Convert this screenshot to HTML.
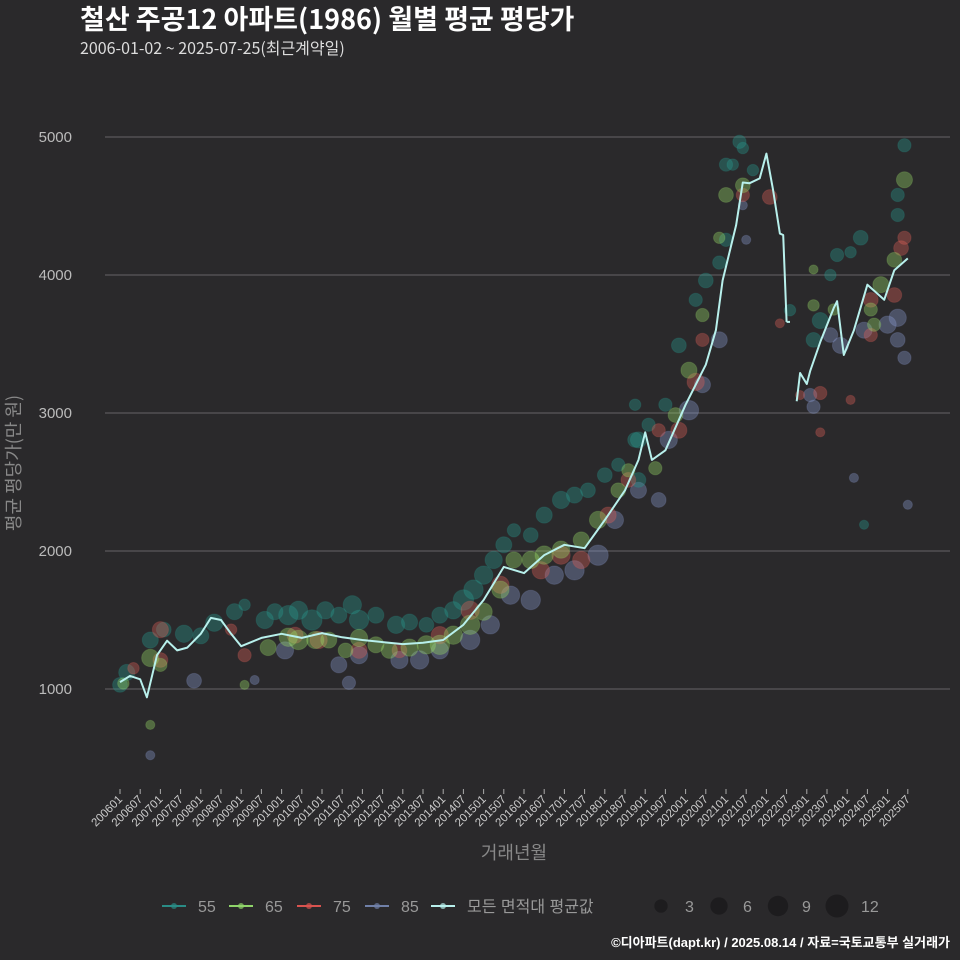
<!DOCTYPE html>
<html><head><meta charset="utf-8">
<style>
html,body{margin:0;padding:0;background:#2a292b;}
svg{display:block;font-family:"Liberation Sans","Noto Sans CJK KR",sans-serif;}
</style></head>
<body>
<svg id="chart" width="960" height="960" viewBox="0 0 960 960" xmlns="http://www.w3.org/2000/svg">
<rect width="960" height="960" fill="#2a292b"/>
<text x="80" y="29" fill="#ffffff" font-size="27" font-weight="bold" font-family="'Noto Sans CJK KR',sans-serif">철산 주공12 아파트(1986) 월별 평균 평당가</text>
<text x="80" y="54" fill="#dddddd" font-size="16" font-family="'Noto Sans CJK KR',sans-serif">2006-01-02 ~ 2025-07-25(최근계약일)</text>
<g id="grid"></g>
<g id="yaxis"></g>
<g id="xaxis"></g>
<g id="points"></g>
<g id="avgline"></g>
<text transform="translate(20,463) rotate(-90)" text-anchor="middle" fill="#888" font-size="18" font-family="'Noto Sans CJK KR',sans-serif">평균 평당가(만 원)</text>
<text x="514" y="859" text-anchor="middle" fill="#888" font-size="18" font-family="'Noto Sans CJK KR',sans-serif">거래년월</text>
<g id="legend"></g>
<text x="950" y="947" text-anchor="end" fill="#ffffff" font-size="13" font-weight="bold">©디아파트(dapt.kr) / 2025.08.14 / 자료=국토교통부 실거래가</text>
</svg>
<script>
const yTicks=[1000,2000,3000,4000,5000];
const avgMonths=[0,3,6,8,11,14,17,20,24,27,30,33,36,39,42,48,54,60,66,72,78,84,90,96,102,108,114,120,126,132,138,144,150,154,156,158,162,168,174,177,179,183,185,187,190,192,194,196,197,198];
const avgValues=[1050,1095,1070,940,1245,1350,1280,1300,1400,1515,1500,1400,1310,1340,1370,1400,1370,1405,1375,1355,1340,1325,1335,1355,1465,1645,1885,1840,1970,2045,2020,2225,2440,2660,2860,2660,2730,3060,3350,3600,3960,4360,4670,4665,4700,4880,4615,4300,4290,3660];
const avgMonths2=[198,199];
const avgValues2=[3660,3660];
const avgMonths3=[201,202,204,205,208,212,213,215,218,222,227,230,234];
const avgValues3=[3085,3290,3210,3305,3515,3760,3810,3420,3600,3930,3820,4035,4120];
const s55=[[0,1030,4],[2,1120,5],[9,1355,5],[13,1430,4],[19,1400,6],[24,1385,5],[28,1480,6],[34,1560,5],[37,1610,2],[43,1500,6],[46,1560,5],[50,1535,8],[53,1570,7],[57,1500,9],[61,1570,6],[65,1535,5],[69,1610,7],[71,1500,8],[76,1535,5],[82,1465,6],[86,1485,5],[91,1465,4],[95,1535,5],[99,1570,6],[102,1645,9],[105,1720,8],[108,1825,7],[111,1935,6],[114,2045,5],[117,2150,3],[122,2115,4],[126,2260,5],[131,2370,6],[135,2405,5],[139,2440,4],[144,2550,4],[148,2625,3],[153,2805,4],[157,2915,3],[162,3060,3],[166,3490,4],[171,3820,3],[174,3960,4],[178,4090,3],[180,4255,3],[180,4800,3],[184,4965,3],[185,4920,2],[182,4800,2],[188,4760,2],[199,3745,2],[206,3530,4],[208,3670,5],[211,4000,2],[213,4145,3],[217,4165,2],[220,4270,4],[231,4435,3],[231,4580,3],[233,4940,3],[221,2190,1],[154,2805,5],[154,2515,4],[153,3060,2]];
const s65=[[1,1040,2],[9,1225,6],[12,1175,3],[9,740,1],[37,1030,1],[44,1300,5],[50,1375,7],[53,1355,8],[58,1355,6],[62,1355,5],[67,1280,4],[71,1370,6],[76,1320,5],[80,1280,5],[86,1300,6],[91,1320,7],[95,1320,8],[99,1390,7],[104,1465,8],[108,1560,6],[113,1720,6],[117,1935,5],[122,1935,6],[126,1970,7],[131,2010,6],[137,2080,5],[142,2225,6],[148,2440,4],[151,2585,3],[159,2600,3],[165,2985,4],[169,3310,5],[173,3710,3],[178,4270,2],[180,4580,4],[185,4650,4],[233,4690,5],[230,4110,4],[226,3930,5],[224,3640,3],[223,3750,3],[212,3750,2],[206,3780,2],[206,4040,1]];
const s75=[[4,1150,2],[12,1430,5],[12,1210,4],[33,1430,2],[37,1245,3],[52,1390,5],[59,1355,6],[71,1280,5],[83,1280,4],[95,1390,6],[104,1570,7],[113,1755,6],[125,1860,6],[131,1970,7],[137,1935,6],[145,2260,5],[151,2515,4],[160,2875,3],[166,2875,5],[171,3225,6],[173,3530,3],[185,4580,3],[193,4565,4],[196,3650,1],[202,3130,1],[208,3145,3],[208,2860,1],[217,3095,1],[223,3565,3],[230,3855,4],[232,4195,4],[233,4270,3],[223,3820,4]];
const s85=[[9,520,1],[22,1060,4],[40,1065,1],[49,1280,6],[65,1175,5],[68,1045,3],[71,1245,6],[83,1210,6],[89,1210,7],[95,1280,6],[104,1355,8],[110,1465,7],[116,1680,7],[122,1645,8],[129,1825,7],[135,1860,8],[142,1970,9],[147,2225,6],[154,2440,5],[160,2370,4],[163,2805,6],[169,3020,8],[173,3205,5],[178,3530,5],[185,4505,1],[186,4255,1],[205,3130,3],[206,3045,3],[211,3565,4],[214,3490,5],[221,3600,5],[228,3640,6],[231,3690,6],[233,3400,3],[234,2335,1],[218,2530,1],[231,3530,4]];
const xLabels=[];
for(let y=2006;y<=2025;y++){xLabels.push(y+'01');xLabels.push(y+'07');}
const sizeLegend=[3,6,9,12];

const NS='http://www.w3.org/2000/svg';
function X(m){return 120+m*20.2/6;}
function Y(v){return 689-(v-1000)*0.138;}
function R(n){return 1.8+Math.sqrt(n)*2.8;}
function mk(tag,attrs,parent){const e=document.createElementNS(NS,tag);for(const k in attrs)e.setAttribute(k,attrs[k]);parent.appendChild(e);return e;}

const grid=document.getElementById('grid'),yaxis=document.getElementById('yaxis'),xaxis=document.getElementById('xaxis');
yTicks.forEach(t=>{
  const l=mk('line',{x1:105,x2:950,y1:Y(t),y2:Y(t),stroke:'#5a595b','stroke-width':1.3},grid);
  
  
  const tx=mk('text',{x:72,y:Y(t)+5,'text-anchor':'end',fill:'#bbbbbb','font-size':15},yaxis);
  tx.textContent=t;
  
  
});
xLabels.forEach((lab,i)=>{
  if(i>=40)return;
  const x=X(i*6);
  const tk=mk('line',{x1:x,x2:x,y1:789,y2:794,stroke:'#aaaaaa','stroke-width':1},xaxis);
  
  
  const tx=mk('text',{transform:'translate('+(x+3)+',800) rotate(-45)','text-anchor':'end',fill:'#cccccc','font-size':11.5},xaxis);
  tx.textContent=lab;
  
  
});
const pts=document.getElementById('points');
const series=[[s85,'#8a9bd0','85'],[s55,'#2a9a90','55'],[s75,'#e0605a','75'],[s65,'#9add6a','65']];
series.forEach(([arr,col,name])=>{
  arr.forEach(p=>{
    const c=mk('circle',{cx:X(p[0]),cy:Y(p[1]),r:R(p[2]),fill:col,'fill-opacity':0.36,stroke:col,'stroke-opacity':0.2},pts);
    
    
  });
});
const al=document.getElementById('avgline');
[[avgMonths,avgValues],[avgMonths2,avgValues2],[avgMonths3,avgValues3]].forEach(([ms,vs],k)=>{
  const d=ms.map((m,i)=>(i?'L':'M')+X(m).toFixed(1)+','+Y(vs[i]).toFixed(1)).join(' ');
  const p=mk('path',{d:d,fill:'none',stroke:'#b8f0ec','stroke-width':2,'stroke-linejoin':'round'},al);
  
  
});
const lg=document.getElementById('legend');
const lgItems=[['55','#2a8c86',162],['65','#8fd46a',229],['75','#d9534f',297],['85','#7080a8',365],['모든 면적대 평균값','#b8f0ec',431]];
lgItems.forEach(([lab,col,x])=>{
  const g=mk('g',{},lg);
  
  
  mk('line',{x1:x,x2:x+24,y1:906,y2:906,stroke:col,'stroke-width':2},g);
  mk('circle',{cx:x+12,cy:906,r:3,fill:col,'fill-opacity':0.7},g);
  const t=mk('text',{x:x+36,y:912,fill:'#999','font-size':16},g);
  t.textContent=lab;
});
sizeLegend.forEach((n,i)=>{
  const x=[661,719,778,837][i];
  const g=mk('g',{},lg);
  
  
  mk('circle',{cx:x,cy:906,r:R(n),fill:'#1d1c1e'},g);
  const t=mk('text',{x:x+24,y:912,fill:'#999','font-size':16,'text-anchor':'start'},g);
  t.textContent=n;
});
</script>
</body></html>
